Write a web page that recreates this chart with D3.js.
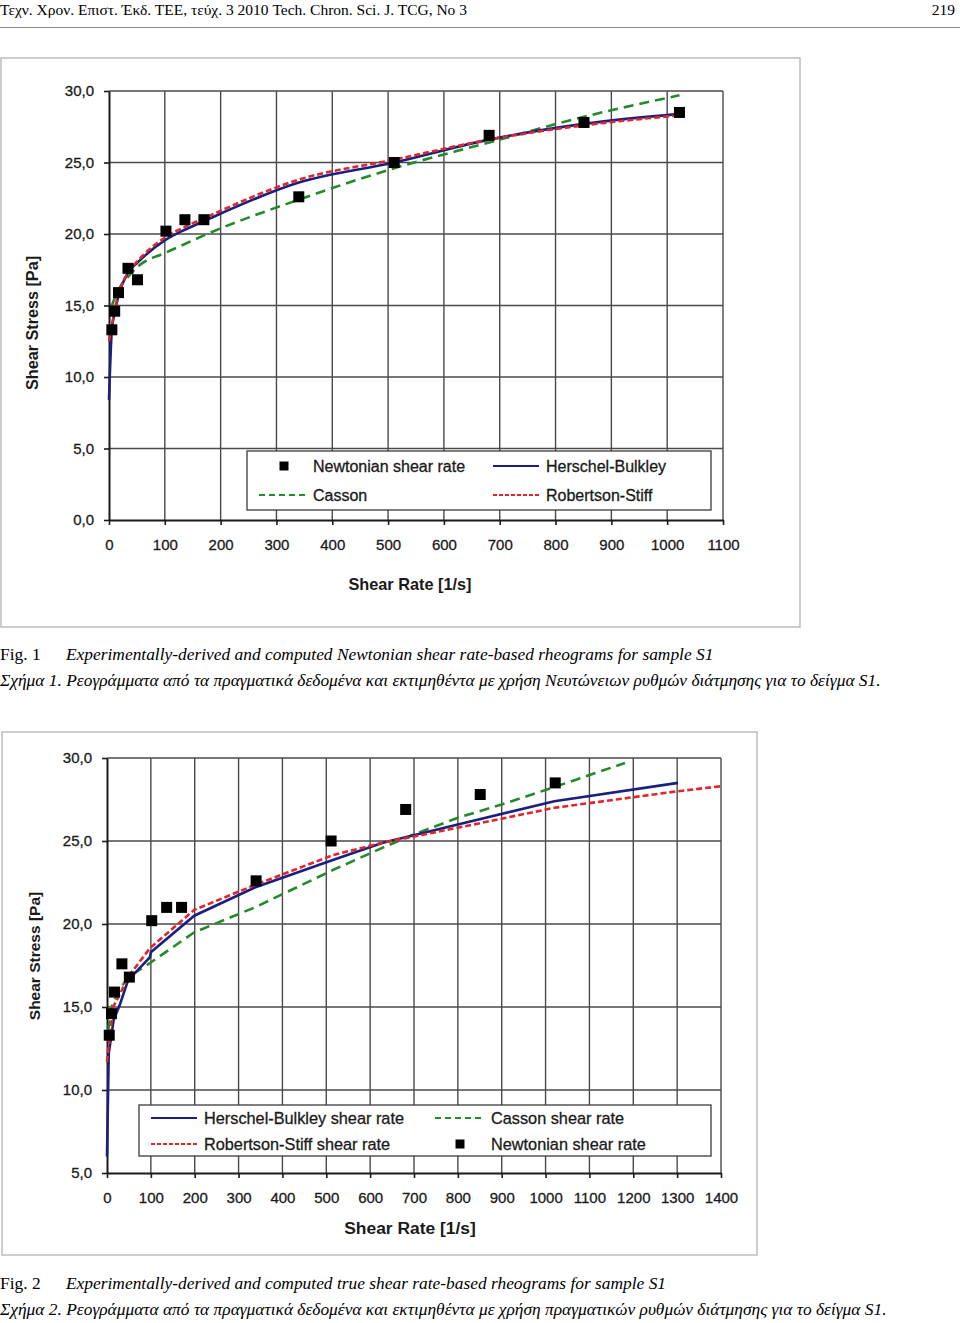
<!DOCTYPE html>
<html>
<head>
<meta charset="utf-8">
<script src="https://cdn.jsdelivr.net/npm/d3@7"></script>
<style>
  body { margin: 0; background: #fff; }
  svg { display: block; }
</style>
</head>
<body>
<svg id="page" width="960" height="1323"></svg>
<script>
// measured points (same for both figures)
const newtRate = [5.1, 10.2, 17, 34, 51, 102, 136, 170, 340, 511, 681, 851, 1022];
const newtStress = [13.3, 14.6, 15.9, 17.6, 16.8, 20.2, 21.0, 21.0, 22.6, 25.0, 26.9, 27.8, 28.5];

// fig 1 - models against newtonian shear rate
const hbRate1 = [0, 5.1, 10.2, 17, 34, 51, 102, 136, 170, 340, 511, 681, 851, 1022];
const hbStress1 = [8.4, 13.3, 14.5, 15.7, 17.3, 18.0, 19.6, 20.3, 20.9, 23.6, 25.0, 26.6, 27.7, 28.4];
const rsRate1 = [0, 5.1, 10.2, 17, 34, 51, 102, 136, 170, 340, 511, 681, 851, 1022];
const rsStress1 = [12.5, 13.6, 14.7, 15.8, 17.3, 18.1, 19.8, 20.5, 21.1, 23.8, 25.2, 26.6, 27.6, 28.3];
const cassonRate1 = [5.1, 10.2, 17, 34, 51, 102, 136, 170, 340, 511, 681, 851, 1022];
const cassonStress1 = [15.0, 15.5, 16.1, 17.0, 17.7, 18.7, 19.3, 19.9, 22.4, 24.6, 26.4, 28.2, 29.7];

// fig 2 - models against true shear rate
const hbRate2 = [0, 4, 15, 30, 48, 98, 100, 199, 337, 515, 629, 800, 1020, 1302];
const hbStress2 = [6.0, 12.2, 14.2, 15.2, 16.6, 18.0, 18.3, 20.5, 22.2, 23.85, 24.9, 26.0, 27.4, 28.5];
const rsRate2 = [0, 14, 30, 48, 98, 199, 337, 515, 629, 800, 1020, 1302, 1400];
const rsStress2 = [11.7, 15.0, 15.8, 16.8, 18.55, 20.85, 22.35, 24.15, 24.9, 25.8, 27.0, 28.0, 28.3];
const cassonRate2 = [3, 10, 25, 48, 98, 199, 337, 515, 629, 700, 800, 900, 1020, 1181];
const cassonStress2 = [13.6, 15.0, 15.9, 16.8, 17.65, 19.5, 21.0, 23.25, 24.6, 25.4, 26.4, 27.2, 28.25, 29.7];

const xTicks1 = d3.range(0, 1101, 100);
const yTicks1 = d3.range(0, 30.1, 5);
const xTicks2 = d3.range(0, 1401, 100);
const yTicks2 = d3.range(5, 30.1, 5);

const svg = d3.select("#page");
const serif = "'Liberation Serif', 'Times New Roman', serif";
const sans = "'Liberation Sans', Arial, sans-serif";
const fmt = (v) => d3.format(".1f")(v).replace(".", ",");

const styles = {
  newt: {},
  hb: { color: "#1b1f7e", dash: null, legendDash: null },
  rs: { color: "#e0262b", dash: "6,3", legendDash: "4,2" },
  casson: { color: "#238a2a", dash: "10,6", legendDash: "6,4" }
};

// page header
svg.append("text").attr("x", 0).attr("y", 15)
  .attr("font-family", serif).attr("font-size", 15.5)
  .text("Τεχν. Χρον. Επιστ. Έκδ. ΤΕΕ, τεύχ. 3 2010 Tech. Chron. Sci. J. TCG, No 3");
svg.append("text").attr("x", 955).attr("y", 15).attr("text-anchor", "end")
  .attr("font-family", serif).attr("font-size", 15.5).text("219");
svg.append("line").attr("x1", 0).attr("x2", 960).attr("y1", 27.5).attr("y2", 27.5)
  .attr("stroke", "#8a8a8a").attr("stroke-width", 1.2);

function drawChart(cfg) {
  const g = svg.append("g");

  // outer chart frame
  g.append("rect").attr("x", cfg.frame[0]).attr("y", cfg.frame[1])
    .attr("width", cfg.frame[2]).attr("height", cfg.frame[3])
    .attr("fill", "#fff").attr("stroke", "#bdbdbd").attr("stroke-width", 1.5);

  const x = d3.scaleLinear().domain(cfg.xDomain).range([cfg.left, cfg.right]);
  const y = d3.scaleLinear().domain(cfg.yDomain).range([cfg.bottom, cfg.top]);

  // grid
  g.append("g").selectAll("line").data(cfg.xTicks.slice(1)).join("line")
    .attr("x1", (d) => x(d)).attr("x2", (d) => x(d))
    .attr("y1", cfg.top).attr("y2", cfg.bottom)
    .attr("stroke", "#4a4a4a").attr("stroke-width", 1.4);
  g.append("g").selectAll("line").data(cfg.yTicks.slice(1)).join("line")
    .attr("x1", cfg.left).attr("x2", cfg.right)
    .attr("y1", (d) => y(d)).attr("y2", (d) => y(d))
    .attr("stroke", "#4a4a4a").attr("stroke-width", 1.4);

  // axes
  const xAxis = d3.axisBottom(x).tickValues(cfg.xTicks).tickSize(5).tickSizeOuter(0)
    .tickPadding(cfg.xPad).tickFormat(d3.format("d"));
  const yAxis = d3.axisLeft(y).tickValues(cfg.yTicks).tickSize(5).tickSizeOuter(0)
    .tickPadding(10).tickFormat(fmt);
  [
    g.append("g").attr("transform", `translate(0,${cfg.bottom})`).call(xAxis),
    g.append("g").attr("transform", `translate(${cfg.left},0)`).call(yAxis)
  ].forEach((ax) => {
    ax.selectAll("path").attr("stroke", "#1a1a1a").attr("stroke-width", 2);
    ax.selectAll("line").attr("stroke", "#1a1a1a").attr("stroke-width", 1.6);
    ax.selectAll("text").attr("font-family", sans).attr("font-size", cfg.tickSize)
      .attr("fill", "#1a1a1a").attr("stroke", "#1a1a1a").attr("stroke-width", 0.3);
  });

  // axis titles
  g.append("text").attr("x", cfg.xTitle[0]).attr("y", cfg.xTitle[1]).attr("text-anchor", "middle")
    .attr("font-family", sans).attr("font-weight", "bold").attr("font-size", cfg.xTitleSize)
    .attr("fill", "#1a1a1a").text("Shear Rate [1/s]");
  g.append("text").attr("transform", `translate(${cfg.yTitle[0]},${cfg.yTitle[1]}) rotate(-90)`)
    .attr("text-anchor", "middle").attr("font-family", sans).attr("font-weight", "bold")
    .attr("font-size", cfg.yTitleSize).attr("fill", "#1a1a1a").text("Shear Stress [Pa]");

  // model curves
  const line = d3.line().x((d) => x(d[0])).y((d) => y(d[1])).curve(cfg.curve);
  cfg.curves.forEach((c) => {
    const st = styles[c.key];
    g.append("path").datum(d3.zip(c.xs, c.ys))
      .attr("d", line).attr("fill", "none")
      .attr("stroke", st.color).attr("stroke-width", 2.6)
      .attr("stroke-dasharray", st.dash);
  });

  // measured points
  g.append("g").selectAll("rect").data(d3.zip(newtRate, newtStress)).join("rect")
    .attr("x", (d) => x(d[0]) - 5.5).attr("y", (d) => y(d[1]) - 5.5)
    .attr("width", 11).attr("height", 11).attr("fill", "#000");

  // legend
  const lg = cfg.legend;
  g.append("rect").attr("x", lg.box[0]).attr("y", lg.box[1])
    .attr("width", lg.box[2]).attr("height", lg.box[3])
    .attr("fill", "#fff").attr("stroke", "#3a3a3a").attr("stroke-width", 1.3);
  lg.items.forEach((it) => {
    const st = styles[it.key];
    if (it.key === "newt") {
      g.append("rect").attr("x", it.sym - 4.5).attr("y", it.y - 4.5)
        .attr("width", 9).attr("height", 9).attr("fill", "#000");
    } else {
      g.append("line").attr("x1", it.sym - 23).attr("x2", it.sym + 23)
        .attr("y1", it.y).attr("y2", it.y)
        .attr("stroke", st.color).attr("stroke-width", 2)
        .attr("stroke-dasharray", st.legendDash);
    }
    g.append("text").attr("x", it.tx).attr("y", it.y).attr("dy", "0.35em")
      .attr("font-family", sans).attr("font-size", lg.size).attr("fill", "#1a1a1a")
      .attr("stroke", "#1a1a1a").attr("stroke-width", 0.3)
      .text(it.label);
  });
}

drawChart({
  frame: [1, 58, 799, 569],
  xDomain: [0, 1100], yDomain: [0, 30],
  left: 109, right: 723, top: 91, bottom: 520,
  xTicks: xTicks1, yTicks: yTicks1, tickSize: 15, xPad: 14,
  xTitle: [410, 590], xTitleSize: 16.3,
  yTitle: [38, 323], yTitleSize: 16.2,
  curve: d3.curveMonotoneX,
  curves: [
    { key: "casson", xs: cassonRate1, ys: cassonStress1 },
    { key: "hb", xs: hbRate1, ys: hbStress1 },
    { key: "rs", xs: rsRate1, ys: rsStress1 }
  ],
  legend: {
    box: [247, 451, 464, 59], size: 16,
    items: [
      { key: "newt", sym: 284, tx: 313, y: 466, label: "Newtonian shear rate" },
      { key: "casson", sym: 282, tx: 313, y: 495, label: "Casson" },
      { key: "hb", sym: 516, tx: 546, y: 466, label: "Herschel-Bulkley" },
      { key: "rs", sym: 516, tx: 546, y: 495, label: "Robertson-Stiff" }
    ]
  }
});

drawChart({
  frame: [2, 732, 755, 523],
  xDomain: [0, 1400], yDomain: [5, 30],
  left: 107, right: 721, top: 758, bottom: 1173,
  xTicks: xTicks2, yTicks: yTicks2, tickSize: 15, xPad: 14,
  xTitle: [410, 1234], xTitleSize: 17.4,
  yTitle: [40, 956], yTitleSize: 15.5,
  curve: d3.curveLinear,
  curves: [
    { key: "casson", xs: cassonRate2, ys: cassonStress2 },
    { key: "hb", xs: hbRate2, ys: hbStress2 },
    { key: "rs", xs: rsRate2, ys: rsStress2 }
  ],
  legend: {
    box: [139, 1105, 572, 51], size: 16.3,
    items: [
      { key: "hb", sym: 174, tx: 204, y: 1118, label: "Herschel-Bulkley shear rate" },
      { key: "rs", sym: 174, tx: 204, y: 1144, label: "Robertson-Stiff shear rate" },
      { key: "casson", sym: 458, tx: 491, y: 1118, label: "Casson shear rate" },
      { key: "newt", sym: 460, tx: 491, y: 1144, label: "Newtonian shear rate" }
    ]
  }
});

// captions
function caption(yPos, figLabel, en, gr) {
  svg.append("text").attr("x", 0).attr("y", yPos)
    .attr("font-family", serif).attr("font-size", 17.4).text(figLabel);
  svg.append("text").attr("x", 66).attr("y", yPos)
    .attr("font-family", serif).attr("font-size", 17.4).attr("font-style", "italic").text(en);
  svg.append("text").attr("x", 0).attr("y", yPos + 26)
    .attr("font-family", serif).attr("font-size", 17.4).attr("font-style", "italic").text(gr);
}
caption(660, "Fig. 1",
  "Experimentally-derived and computed Newtonian shear rate-based rheograms for sample S1",
  "Σχήμα 1. Ρεογράμματα από τα πραγματικά δεδομένα και εκτιμηθέντα με χρήση Νευτώνειων ρυθμών διάτμησης για το δείγμα S1.");
caption(1289, "Fig. 2",
  "Experimentally-derived and computed true shear rate-based rheograms for sample S1",
  "Σχήμα 2. Ρεογράμματα από τα πραγματικά δεδομένα και εκτιμηθέντα με χρήση πραγματικών ρυθμών διάτμησης για το δείγμα S1.");
</script>
</body>
</html>
